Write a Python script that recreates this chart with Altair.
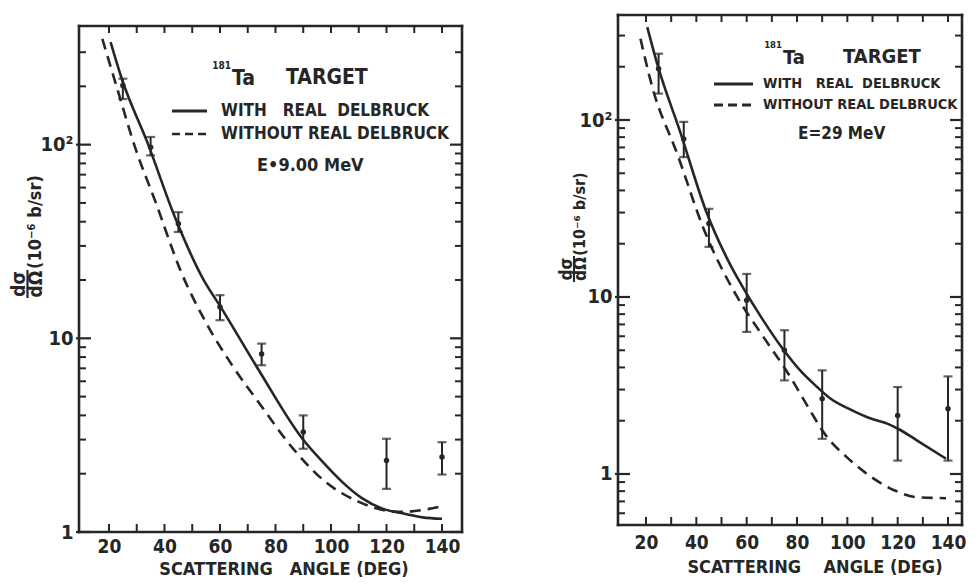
import altair as alt
import pandas as pd

FONT = "DejaVu Sans Condensed, Roboto, DejaVu Sans, sans-serif"
INK = "#262626"
SP = "\u00a0"

# ---------------- Left panel : 181Ta target, E = 9.00 MeV ----------------
L_with_angle = [20.6, 24.8, 33.8, 44.0, 54.2, 60, 74.1, 89.7, 97, 104.1, 111, 118.5, 126.9, 133, 140]
L_with_val = [338, 215, 103, 41.4, 19.9, 14.7, 6.8, 3.03, 2.3, 1.81, 1.5, 1.32, 1.24, 1.19, 1.17]
L_without_angle = [17.6, 23.0, 29.6, 36.8, 46.0, 54.9, 64.4, 75.0, 86.1, 98.1, 110.1, 119.7, 126, 133, 140]
L_without_val = [352, 194, 95, 50.5, 22.0, 12.1, 7.25, 4.45, 2.72, 1.81, 1.43, 1.29, 1.27, 1.30, 1.36]
L_pt_angle = [25, 35, 45, 60, 75, 90, 120, 140]
L_pt_val = [202, 97, 39.0, 14.5, 8.3, 3.28, 2.34, 2.44]
L_pt_lo = [172, 88, 35.4, 12.4, 7.26, 2.69, 1.67, 1.98]
L_pt_hi = [219, 109.5, 44.8, 16.7, 9.39, 4.00, 3.03, 2.91]

# ---------------- Right panel : 181Ta target, E = 29 MeV ----------------
R_with_angle = [20.5, 24.6, 33.6, 44.0, 53.3, 58.1, 66, 74.1, 81.8, 88, 93.4, 101.9, 109.6, 116.1, 120.5, 127.6, 139.2]
R_with_val = [335, 204, 85.5, 30.2, 15.4, 11.6, 7.6, 5.15, 3.77, 3.1, 2.66, 2.29, 2.05, 1.92, 1.79, 1.55, 1.22]
R_without_angle = [17.8, 22.3, 32.6, 42.9, 55.9, 65.8, 76.1, 86.4, 89.6, 101.9, 109.6, 118.6, 127.6, 139.2]
R_without_val = [288, 157, 63.3, 24.3, 10.2, 6.2, 3.77, 2.14, 1.80, 1.17, 0.96, 0.81, 0.74, 0.73]
R_pt_angle = [25, 35, 45, 60, 75, 90, 120, 140]
R_pt_val = [195, 78, 26.0, 9.6, 5.0, 2.66, 2.14, 2.34]
R_pt_lo = [141, 61.7, 19.2, 6.35, 3.38, 1.58, 1.19, 1.19]
R_pt_hi = [237, 97.6, 31.5, 13.5, 6.49, 3.85, 3.10, 3.56]

# ---------------- axis tick values ----------------
X_TICKS = [20, 30, 40, 50, 60, 70, 80, 90, 100, 110, 120, 130, 140]
X_LABELS = [20, 40, 60, 80, 100, 120, 140]
Y_MAJOR = [1, 10, 100]
L_Y_MINOR = [2, 3, 4, 5, 6, 7, 8, 9, 20, 30, 40, 50, 60, 70, 80, 90, 200, 300]
R_Y_MINOR = [0.6, 0.7, 0.8, 0.9, 2, 3, 4, 5, 6, 7, 8, 9, 20, 30, 40, 50, 60, 70, 80, 90, 200, 300]


def one_row(s=""):
    return alt.Data(values=[{"t": s}])


def txt(s, x, y, size, align="left", angle=0, weight="bold"):
    return alt.Chart(one_row(s)).mark_text(
        align=align, baseline="middle", angle=angle, fontSize=size, font=FONT,
        fontWeight=weight, color=INK,
    ).encode(x=alt.value(x), y=alt.value(y), text="t:N")


def hline(x1, x2, y, dash=None, width=2.5, cap="butt"):
    kw = dict(color=INK, strokeWidth=width, strokeCap=cap)
    if dash:
        kw["strokeDash"] = dash
    return alt.Chart(one_row()).mark_rule(**kw).encode(
        x=alt.value(x1), x2=alt.value(x2), y=alt.value(y))


def vline(x, y1, y2, width=2, cap="butt"):
    return alt.Chart(one_row()).mark_rule(color=INK, strokeWidth=width, strokeCap=cap).encode(
        x=alt.value(x), y=alt.value(y1), y2=alt.value(y2))


def panel(W, H, top, xdom, ydom, w_a, w_v, wo_a, wo_v, p_a, p_v, p_lo, p_hi, y_minor,
          x_lab_pad, annotations):
    X = lambda f: alt.X(f"{f}:Q", scale=alt.Scale(domain=xdom, nice=False, zero=False),
                        axis=alt.Axis(values=X_LABELS, ticks=False, domain=False, grid=False,
                                      labelFont=FONT, labelFontSize=19, labelFontWeight="bold",
                                      labelColor=INK, labelPadding=x_lab_pad, title=None,
                                      labelFlush=False))
    Y = lambda f: alt.Y(f"{f}:Q", scale=alt.Scale(type="log", domain=ydom, nice=False),
                        axis=alt.Axis(values=Y_MAJOR, ticks=False, domain=False, grid=False,
                                      labelFont=FONT, labelFontSize=20, labelFontWeight="bold",
                                      labelColor=INK, labelPadding=6, title=None,
                                      labelExpr="datum.value >= 100 ? '10²' : (datum.value >= 10 ? '10' : '1')"))

    with_df = pd.DataFrame({"a": w_a, "v": w_v})
    without_df = pd.DataFrame({"a": wo_a, "v": wo_v})
    pts = pd.DataFrame({"a": p_a, "v": p_v, "lo": p_lo, "hi": p_hi})
    xt = pd.DataFrame({"a": X_TICKS})
    ymaj = pd.DataFrame({"v": Y_MAJOR})
    ymin = pd.DataFrame({"v": y_minor})

    layers = [
        alt.Chart(with_df).mark_line(color=INK, strokeWidth=2.6, interpolate="monotone", clip=True)
        .encode(x=X("a"), y=Y("v")),
        alt.Chart(without_df).mark_line(color=INK, strokeWidth=2.6, strokeDash=[11, 7],
                                         interpolate="monotone", clip=True)
        .encode(x=X("a"), y=Y("v")),
        alt.Chart(pts).mark_rule(color=INK, strokeWidth=2).encode(x=X("a"), y=Y("lo"), y2="hi:Q"),
        alt.Chart(pts).mark_tick(color=INK, orient="horizontal", size=9, thickness=2.2)
        .encode(x=X("a"), y=Y("hi")),
        alt.Chart(pts).mark_tick(color=INK, orient="horizontal", size=9, thickness=2.2)
        .encode(x=X("a"), y=Y("lo")),
        alt.Chart(pts).mark_point(color=INK, filled=True, size=30, opacity=1)
        .encode(x=X("a"), y=Y("v")),
        # inward ticks on all four sides
        alt.Chart(xt).mark_rule(color=INK, strokeWidth=2).encode(
            x=X("a"), y=alt.value(H), y2=alt.value(H - 8)),
        alt.Chart(xt).mark_rule(color=INK, strokeWidth=2).encode(
            x=X("a"), y=alt.value(top), y2=alt.value(top + 7)),
        alt.Chart(ymaj).mark_rule(color=INK, strokeWidth=2.2).encode(
            y=Y("v"), x=alt.value(-3), x2=alt.value(12)),
        alt.Chart(ymin).mark_rule(color=INK, strokeWidth=2).encode(
            y=Y("v"), x=alt.value(0), x2=alt.value(7)),
        alt.Chart(ymaj).mark_rule(color=INK, strokeWidth=2.2).encode(
            y=Y("v"), x=alt.value(W), x2=alt.value(W - 12)),
        alt.Chart(ymin).mark_rule(color=INK, strokeWidth=2).encode(
            y=Y("v"), x=alt.value(W), x2=alt.value(W - 7)),
        # frame
        hline(0, W, top, width=2.6, cap="square"),
        hline(0, W, H, width=2.6, cap="square"),
        vline(0, top, H, width=2.6, cap="square"),
        vline(W, top, H, width=2.6, cap="square"),
    ]
    return alt.layer(*layers, *annotations).properties(width=W, height=H)


# left panel: plot area starts 11 px lower than the right one (frame drawn at y=11)
LW, LH, LTOP = 383, 517, 11
left_ann = [
    txt("181", 152, 51, 10, align="right"),
    txt("Ta", 153, 64, 21),
    txt("TARGET", 207, 63, 21),
    hline(93, 128, 96, width=3),
    txt(f"WITH{SP*3}REAL{SP*2}DELBRUCK", 142, 96, 17),
    hline(93, 128, 119, dash=[8, 5], width=2.5),
    txt("WITHOUT REAL DELBRUCK", 142, 119, 17),
    txt("E•9.00 MeV", 178, 151, 18),
    txt("dσ", -60, 269, 19, align="center", angle=270),
    vline(-51.5, 255, 283, width=2.2),
    txt("dΩ", -43, 269, 19, align="center", angle=270),
    txt("(10⁻⁶ b/sr)", -43, 207, 18, align="center", angle=270),
    txt(f"SCATTERING{SP*3}ANGLE (DEG)", 205, 555, 18, align="center"),
]

RW, RH, RTOP = 344, 510, 0
right_ann = [
    txt("181", 164, 30, 9.5, align="right"),
    txt("Ta", 165, 43, 20),
    txt("TARGET", 225, 42, 20),
    hline(96, 135, 69, width=3),
    txt(f"WITH{SP*3}REAL{SP*2}DELBRUCK", 145, 69, 14.5),
    hline(96, 135, 90, dash=[9, 5], width=3),
    txt("WITHOUT REAL DELBRUCK", 145, 90, 14.5),
    txt("E=29 MeV", 180, 119, 17),
    txt("dσ", -51, 254, 17, align="center", angle=270),
    vline(-44, 241, 267, width=2),
    txt("dΩ", -37, 254, 17, align="center", angle=270),
    txt("(10⁻⁶ b/sr)", -38, 199, 16, align="center", angle=270),
    txt(f"SCATTERING{SP*4}ANGLE (DEG)", 197, 553, 18, align="center"),
]

left = panel(LW, LH, LTOP, [9.2, 147.2], [1, 467], L_with_angle, L_with_val, L_without_angle,
             L_without_val, L_pt_angle, L_pt_val, L_pt_lo, L_pt_hi, L_Y_MINOR, 5, left_ann)
right = panel(RW, RH, RTOP, [8.87, 145.56], [0.515, 392], R_with_angle, R_with_val, R_without_angle,
              R_without_val, R_pt_angle, R_pt_val, R_pt_lo, R_pt_hi, R_Y_MINOR, 8, right_ann)

chart = alt.hconcat(left, right, spacing=94).properties(
    padding={"left": 2, "top": 5, "right": 0, "bottom": 0}
).configure_view(strokeWidth=0)

chart.save("out.html", embed_options={"renderer": "svg", "actions": False})
